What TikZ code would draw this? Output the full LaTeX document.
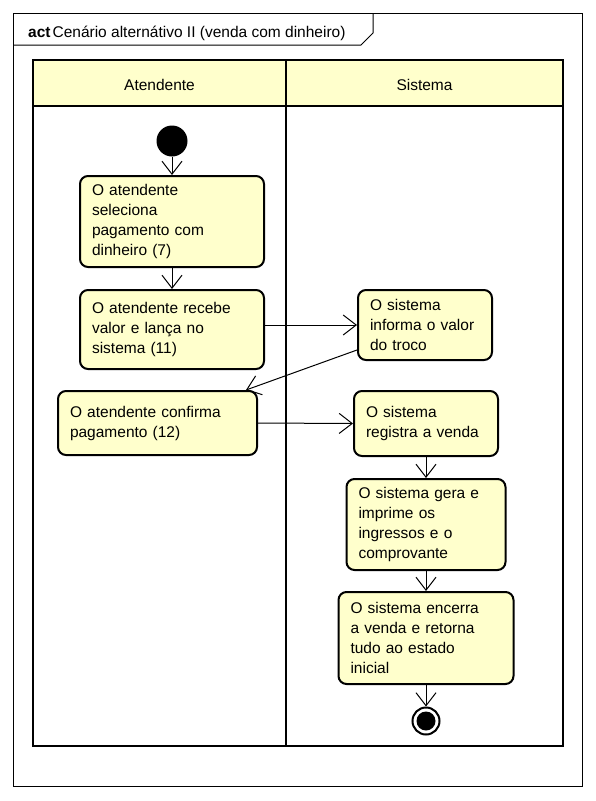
\documentclass[tikz,border=0pt]{standalone}
\usepackage{fontspec}
\setmainfont{Liberation Sans}
\usetikzlibrary{arrows.meta}
\definecolor{actfill}{HTML}{FFFFCC}
\begin{document}
\begin{tikzpicture}[x=1pt,y=-1pt,
  txt/.style={font=\fontsize{15.5}{20}\selectfont},
  action/.style={txt,draw,line width=2pt,fill=actfill,rounded corners=8pt,
    align=left,inner xsep=12pt,inner ysep=0pt},
  flow/.style={line width=1pt,-{Straight Barb[length=13pt,width=20pt,line width=1pt]}},
  lane/.style={line width=2.5pt},
  frameline/.style={line width=1pt},
]
\useasboundingbox (0,0) rectangle (596,801);

% diagram frame with its name tab
\draw[frameline] (13,13) rectangle (582,786);
\draw[frameline] (13,45) -- (361,45) -- (373,33) -- (373,13);
\node[txt,anchor=base west,inner sep=0] (title) at (28,37)
  {\textbf{act}\kern2pt Cenário alternátivo II (venda com dinheiro)};

% swimlanes
\fill[actfill] (33,60) rectangle (563,106);
\draw[lane] (33,60) rectangle (563,746);
\draw[lane] (33,106) -- (563,106);
\draw[lane] (286,60) -- (286,746);
\node[txt] (laneA) at (159.5,85) {Atendente};
\node[txt] (laneS) at (424.5,85) {Sistema};

% initial and final nodes
\node[circle,fill=black,minimum size=31pt,inner sep=0pt] (init) at (172,141) {};
\node[circle,draw,line width=2pt,fill=white,minimum size=27pt,inner sep=0pt] (fin) at (426,721) {};
\fill[black] (fin.center) circle (9.5pt);

% actions
\node[action,text width=160pt,minimum height=91pt] (A1) at (172,221.5)
  {O atendente\\seleciona\\pagamento com\\dinheiro (7)};
\node[action,text width=160pt,minimum height=79pt] (A2) at (172,329.5)
  {O atendente recebe\\valor e lança no\\sistema (11)};
\node[action,text width=110pt,minimum height=70pt] (S1) at (425,325)
  {O sistema\\informa o valor\\do troco};
\node[action,text width=175pt,minimum height=64pt] (A3) at (157.5,423)
  {O atendente confirma\\pagamento (12)};
\node[action,text width=120pt,minimum height=65pt] (S2) at (426,423.5)
  {O sistema\\registra a venda};
\node[action,text width=135pt,minimum height=91pt] (S3) at (426,524.5)
  {O sistema gera e\\imprime os\\ingressos e o\\comprovante};
\node[action,text width=151pt,minimum height=92pt] (S4) at (426,638)
  {O sistema encerra\\a venda e retorna\\tudo ao estado\\inicial};

% control flows
\draw[flow] (init) -- (A1);
\draw[flow] (A1) -- (A2);
\draw[flow] (A2.east |- S1.west) -- (S1.west);
\draw[flow] ([yshift=-25pt]S1.west) -- ([xshift=-12pt]A3.north east);
\draw[flow] (A3.east) -- (S2.west);
\draw[flow] (S2) -- (S3);
\draw[flow] (S3) -- (S4);
\draw[flow] (S4) -- (fin);
\end{tikzpicture}
\end{document}
